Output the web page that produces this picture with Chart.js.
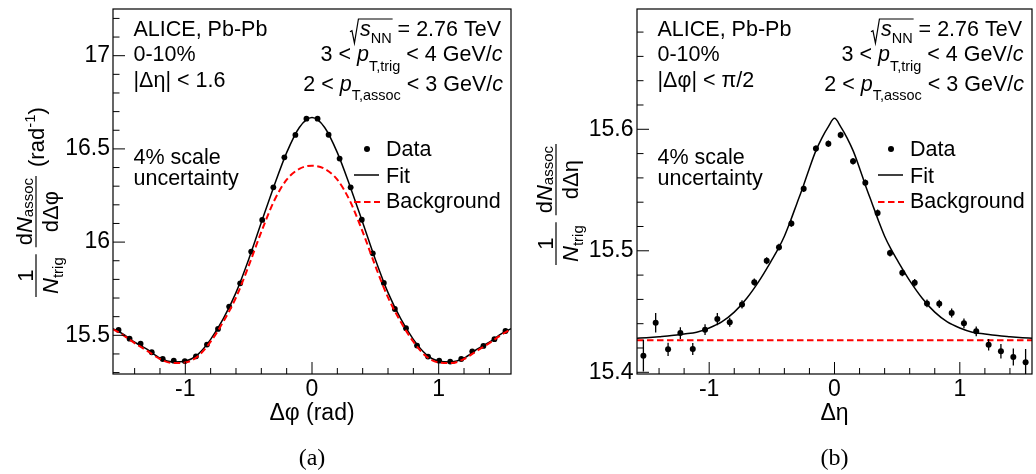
<!DOCTYPE html>
<html>
<head>
<meta charset="utf-8">
<script src="https://cdn.jsdelivr.net/npm/chart.js@4.4.1/dist/chart.umd.min.js"></script>
<style>
  html, body { margin: 0; padding: 0; background: #fff; }
  #wrap { position: relative; width: 1036px; height: 474px; }
  .box { position: absolute; top: 0; height: 474px; }
  #boxA { left: 0; width: 520px; }
  #boxB { left: 520px; width: 516px; }
</style>
</head>
<body>
<div id="wrap">
  <div class="box" id="boxA"><canvas id="chartA"></canvas></div>
  <div class="box" id="boxB"><canvas id="chartB"></canvas></div>
</div>
<script>
// ---- panel (a): delta phi projection ----
const phiA = [-1.527, -1.440, -1.353, -1.265, -1.178, -1.091, -1.004, -0.916, -0.829, -0.742, -0.654, -0.567,
  -0.480, -0.393, -0.305, -0.218, -0.131, -0.044, 0.044, 0.131, 0.218, 0.305, 0.393, 0.480,
  0.567, 0.654, 0.742, 0.829, 0.916, 1.004, 1.091, 1.178, 1.265, 1.353, 1.440, 1.527];
const dataA = [15.529, 15.482, 15.455, 15.409, 15.373, 15.364, 15.362, 15.387, 15.450, 15.534, 15.654, 15.779,
  15.949, 16.119, 16.294, 16.455, 16.575, 16.662, 16.662, 16.576, 16.448, 16.294, 16.120, 15.940,
  15.781, 15.641, 15.538, 15.445, 15.386, 15.364, 15.359, 15.373, 15.414, 15.443, 15.479, 15.523];
const curveXA = [-1.5708, -1.5, -1.4, -1.3, -1.2, -1.1, -1.0, -0.9, -0.8, -0.7, -0.6, -0.5, -0.4, -0.3, -0.2, -0.1, 0,
  0.1, 0.2, 0.3, 0.4, 0.5, 0.6, 0.7, 0.8, 0.9, 1.0, 1.1, 1.2, 1.3, 1.4, 1.5, 1.5708];
const fitA = [15.535, 15.510, 15.463, 15.424, 15.378, 15.357, 15.362, 15.398, 15.478, 15.589, 15.729, 15.907, 16.105, 16.300, 16.480, 16.615, 16.668,
  16.615, 16.480, 16.300, 16.105, 15.907, 15.729, 15.589, 15.478, 15.398, 15.362, 15.357, 15.378, 15.424, 15.463, 15.510, 15.535];
const bgA = [15.532, 15.505, 15.458, 15.416, 15.373, 15.351, 15.354, 15.388, 15.466, 15.573, 15.703, 15.872, 16.055, 16.220, 16.335, 16.393, 16.410,
  16.393, 16.335, 16.220, 16.055, 15.872, 15.703, 15.573, 15.466, 15.388, 15.354, 15.351, 15.373, 15.416, 15.458, 15.505, 15.532];

// ---- panel (b): delta eta projection ----
const etaB = [-1.525, -1.427, -1.328, -1.230, -1.131, -1.033, -0.935, -0.836, -0.738, -0.640, -0.541, -0.443,
  -0.344, -0.246, -0.148, -0.049, 0.049, 0.148, 0.246, 0.344, 0.443, 0.541, 0.640, 0.738,
  0.836, 0.935, 1.033, 1.131, 1.230, 1.328, 1.427, 1.525];
const dataB = [15.4137, 15.4408, 15.4189, 15.4323, 15.4192, 15.4351, 15.4438, 15.4411, 15.4559, 15.4742, 15.4918, 15.5030,
  15.5225, 15.5510, 15.5841, 15.5882, 15.5953, 15.5737, 15.5559, 15.5312, 15.4981, 15.4819, 15.4737, 15.4567,
  15.4564, 15.4488, 15.4403, 15.4337, 15.4227, 15.4173, 15.4126, 15.4082];
const errB = [0.013, 0.008, 0.0055, 0.0048, 0.005, 0.0045, 0.005, 0.0037, 0.0034, 0.003, 0.0028, 0.0028,
  0.0027, 0.0027, 0.0026, 0.0026, 0.0026, 0.0026, 0.0027, 0.0027, 0.0028, 0.0028, 0.003, 0.0032,
  0.0034, 0.0037, 0.004, 0.004, 0.0048, 0.006, 0.007, 0.011];
const fitXB = [-1.576, -1.5, -1.4, -1.3, -1.2, -1.1, -1.0, -0.9, -0.8, -0.7, -0.6, -0.5, -0.45, -0.4, -0.35, -0.3, -0.25, -0.2, -0.15, -0.1, -0.05, 0,
  0.05, 0.1, 0.15, 0.2, 0.25, 0.3, 0.35, 0.4, 0.45, 0.5, 0.6, 0.7, 0.8, 0.9, 1.0, 1.1, 1.2, 1.3, 1.4, 1.5, 1.576];
const fitB = [15.428, 15.4285, 15.4293, 15.4302, 15.4315, 15.433, 15.4365, 15.4415, 15.4495, 15.461, 15.4755, 15.4925, 15.5015, 15.512, 15.525, 15.539, 15.553, 15.568, 15.582, 15.593, 15.602, 15.609,
  15.602, 15.593, 15.582, 15.568, 15.553, 15.539, 15.525, 15.512, 15.5015, 15.4925, 15.4755, 15.461, 15.4495, 15.4415, 15.4365, 15.433, 15.4315, 15.4302, 15.4293, 15.4285, 15.428];
const bgXB = [-1.576, 1.576];
const bgB = [15.4263, 15.4263];

// ---- ticks ----
const xTicks = [-1, 0, 1];
const yTicksA = [15.5, 16, 16.5, 17];
const yTicksB = [15.4, 15.5, 15.6];

const FONT = "'Liberation Sans', Arial, Helvetica, sans-serif";

function pts(xs, ys) {
  return xs.map((x, i) => ({ x: x, y: ys[i] }));
}

// rich text pieces
function n(t, size) { return { t: t, size: size || 21.5, it: false, dy: 0 }; }
function it(t, size) { return { t: t, size: size || 21.5, it: true, dy: 0 }; }
function sb(t, dy, size) { return { t: t, size: size || 14.5, it: false, dy: dy }; }
function fontOf(p) { return (p.it ? 'italic ' : '') + p.size + 'px ' + FONT; }

function widthOf(ctx, parts) {
  let w = 0;
  parts.forEach(p => { ctx.font = fontOf(p); w += ctx.measureText(p.t).width; });
  return w;
}

function rich(ctx, x, y, parts, align) {
  const w = widthOf(ctx, parts);
  let cx = align === 'right' ? x - w : align === 'center' ? x - w / 2 : x;
  ctx.textAlign = 'left';
  ctx.textBaseline = 'alphabetic';
  parts.forEach(p => {
    ctx.font = fontOf(p);
    ctx.fillText(p.t, cx, y + p.dy);
    cx += ctx.measureText(p.t).width;
  });
  return w;
}

// sqrt(s_NN) = 2.76 TeV, right aligned
function sqrtLine(ctx, right, by) {
  const under = [it('s'), sb('NN', 7)];
  const rest = [n(' = 2.76 TeV')];
  const wu = widthOf(ctx, under), wr = widthOf(ctx, rest);
  const radW = 10;
  const x0 = right - wr - wu - radW;
  ctx.save();
  ctx.strokeStyle = '#000';
  ctx.lineWidth = 1.2;
  ctx.beginPath();
  ctx.moveTo(x0, by - 4);
  ctx.lineTo(x0 + 2, by - 5);
  ctx.lineTo(x0 + 4.5, by + 7.5);
  ctx.lineTo(x0 + 8.5, by - 16.7);
  ctx.lineTo(x0 + radW + wu + 1, by - 16.7);
  ctx.stroke();
  ctx.restore();
  rich(ctx, x0 + radW, by, under, 'left');
  rich(ctx, right, by, rest, 'right');
}

// rotated y axis title made of two fractions and a unit
function yTitle(ctx, cx, cy, dvar, withUnit) {
  ctx.save();
  ctx.translate(cx, cy);
  ctx.rotate(-Math.PI / 2);
  ctx.fillStyle = '#000';
  ctx.strokeStyle = '#000';
  ctx.lineWidth = 1.2;
  const big = 22, small = 15;
  // 1 / N_trig
  const num1 = [n('1', big)];
  const den1 = [it('N', big), sb('trig', 5, small)];
  const w1 = Math.max(widthOf(ctx, num1), widthOf(ctx, den1)) + 6;
  rich(ctx, w1 / 2, -3, num1, 'center');
  rich(ctx, w1 / 2, 21.5, den1, 'center');
  ctx.beginPath(); ctx.moveTo(0, 0); ctx.lineTo(w1, 0); ctx.stroke();
  // dN_assoc / d(var)
  const x2 = w1 + 7;
  const num2 = [n('d', big), it('N', big), sb('assoc', 1, small)];
  const den2 = [n('d\u0394' + dvar, big)];
  const w2 = Math.max(widthOf(ctx, num2), widthOf(ctx, den2)) + 4;
  rich(ctx, x2 + w2 / 2, -4, num2, 'center');
  rich(ctx, x2 + w2 / 2, 21.5, den2, 'center');
  ctx.beginPath(); ctx.moveTo(x2, 0); ctx.lineTo(x2 + w2, 0); ctx.stroke();
  if (withUnit) {
    rich(ctx, x2 + w2 + 9, 7.5, [n('(rad', big), sb('-1', -9, small), n(')', big)], 'left');
  }
  ctx.restore();
}

function decorations(cfg) {
  return {
    id: 'decor' + cfg.tag,
    afterDatasetsDraw(chart) {
      if (!cfg.err) return;
      const ctx = chart.ctx, xs = chart.scales.x, ys = chart.scales.y, ca = chart.chartArea;
      ctx.save();
      ctx.beginPath();
      ctx.rect(ca.left, ca.top, ca.right - ca.left, ca.bottom - ca.top);
      ctx.clip();
      ctx.strokeStyle = '#000';
      ctx.lineWidth = 1.3;
      ctx.beginPath();
      cfg.xs.forEach((x, i) => {
        const px = xs.getPixelForValue(x);
        ctx.moveTo(px, ys.getPixelForValue(cfg.ys[i] - cfg.err[i]));
        ctx.lineTo(px, ys.getPixelForValue(cfg.ys[i] + cfg.err[i]));
      });
      ctx.stroke();
      ctx.restore();
    },
    afterDraw(chart) {
      const ctx = chart.ctx, xs = chart.scales.x, ys = chart.scales.y, ca = chart.chartArea;
      ctx.save();
      ctx.strokeStyle = '#000';
      ctx.fillStyle = '#000';
      // frame
      ctx.lineWidth = 1.2;
      ctx.strokeRect(ca.left, ca.top, ca.right - ca.left, ca.bottom - ca.top);
      // inward ticks
      ctx.lineWidth = 1;
      ctx.beginPath();
      for (let k = -8; k <= 8; k++) {
        const v = k * 0.2;
        if (v < xs.min || v > xs.max) continue;
        const len = (k % 5 === 0) ? 12 : 6;
        const px = xs.getPixelForValue(v);
        ctx.moveTo(px, ca.bottom);
        ctx.lineTo(px, ca.bottom - len);
      }
      const steps = Math.round((cfg.yMinorTo - cfg.yMinorFrom) / cfg.yMinorStep);
      for (let k = 0; k <= steps; k++) {
        const v = cfg.yMinorFrom + k * cfg.yMinorStep;
        if (v < ys.min || v > ys.max) continue;
        const major = cfg.yTicks.some(t => Math.abs(t - v) < 1e-6);
        const py = ys.getPixelForValue(v);
        ctx.moveTo(ca.left, py);
        ctx.lineTo(ca.left + (major ? 12 : 6.5), py);
      }
      ctx.stroke();

      // text block
      const L = ca.left + 20.5, R = ca.right;
      rich(ctx, L, 35.7, [n('ALICE, Pb-Pb')], 'left');
      rich(ctx, L, 60.7, [n('0-10%')], 'left');
      rich(ctx, L, 87.3, [n(cfg.cut)], 'left');
      rich(ctx, L, 164, [n('4% scale')], 'left');
      rich(ctx, L, 185, [n('uncertainty')], 'left');
      sqrtLine(ctx, R - 10, 35.7);
      rich(ctx, R - 8.5, 61, [n('3 < '), it('p'), sb('T,trig', 9.5), n(' < 4 GeV/'), it('c')], 'right');
      rich(ctx, R - 8, 90.7, [n('2 < '), it('p'), sb('T,assoc', 9.5), n(' < 3 GeV/'), it('c')], 'right');

      // legend
      const lx = ca.left;
      ctx.beginPath();
      ctx.arc(lx + 254, 149, 3, 0, Math.PI * 2);
      ctx.fill();
      ctx.lineWidth = 1.5;
      ctx.beginPath();
      ctx.moveTo(lx + 241, 175); ctx.lineTo(lx + 266, 175);
      ctx.stroke();
      ctx.strokeStyle = '#ff0000';
      ctx.lineWidth = 2;
      ctx.setLineDash([6.5, 3.5]);
      ctx.beginPath();
      ctx.moveTo(lx + 241, 202); ctx.lineTo(lx + 267, 202);
      ctx.stroke();
      ctx.setLineDash([]);
      rich(ctx, lx + 273, 156, [n('Data')], 'left');
      rich(ctx, lx + 273, 183, [n('Fit')], 'left');
      rich(ctx, lx + 273, 208, [n('Background')], 'left');

      // axis titles
      const mid = (ca.left + ca.right) / 2;
      rich(ctx, mid, 420, [n(cfg.xTitle, 23)], 'center');
      ctx.font = "24px 'Liberation Serif', 'Times New Roman', serif";
      ctx.textAlign = 'center';
      ctx.fillText(cfg.panel, mid, 465);
      yTitle(ctx, 36, cfg.yTitleBottom, cfg.dvar, cfg.unit);
      ctx.restore();
    }
  };
}

function makeChart(id, cfg) {
  const tickFont = { family: FONT, size: 23 };
  const datasets = [
    {
      type: 'line', data: pts(cfg.bgX, cfg.bgY), borderColor: '#ff0000', borderWidth: 2,
      borderDash: [6.5, 3.5], pointRadius: 0, fill: false, cubicInterpolationMode: 'monotone'
    },
    {
      type: 'line', data: pts(cfg.fitX, cfg.fitY), borderColor: '#000', borderWidth: 1.5,
      pointRadius: 0, fill: false, cubicInterpolationMode: 'monotone'
    },
    {
      type: 'scatter', data: pts(cfg.xs, cfg.ys), backgroundColor: '#000', borderWidth: 0,
      pointRadius: cfg.dot, showLine: false
    }
  ];
  return new Chart(document.getElementById(id), {
    type: 'scatter',
    data: { datasets: datasets },
    options: {
      responsive: true,
      maintainAspectRatio: false,
      animation: false,
      layout: { padding: { left: 0, right: cfg.padR, top: 9, bottom: 0 } },
      plugins: { legend: { display: false }, tooltip: { enabled: false } },
      scales: {
        x: {
          type: 'linear', min: cfg.xMin, max: cfg.xMax,
          afterBuildTicks: s => { s.ticks = xTicks.map(v => ({ value: v })); },
          afterFit: s => { s.height = 100; s.paddingLeft = 0; s.paddingRight = 0; },
          grid: { display: false, drawTicks: false },
          border: { display: false },
          ticks: { font: tickFont, color: '#000', padding: 2, maxRotation: 0, autoSkip: false, callback: v => String(v) }
        },
        y: {
          type: 'linear', min: cfg.yMin, max: cfg.yMax,
          afterBuildTicks: s => { s.ticks = cfg.yTicks.map(v => ({ value: v })); },
          afterFit: s => { s.width = cfg.yW; s.paddingTop = 0; s.paddingBottom = 0; },
          grid: { display: false, drawTicks: false },
          border: { display: false },
          ticks: { font: tickFont, color: '#000', padding: cfg.yPad, autoSkip: false, callback: v => String(v) }
        }
      }
    },
    plugins: [decorations(cfg)]
  });
}

makeChart('chartA', {
  tag: 'A', xs: phiA, ys: dataA, err: null, dot: 2.9,
  fitX: curveXA, fitY: fitA, bgX: curveXA, bgY: bgA,
  xMin: -1.5708, xMax: 1.5708, yMin: 15.2924, yMax: 17.2505,
  yTicks: yTicksA, yMinorFrom: 15.3, yMinorTo: 17.2, yMinorStep: 0.1,
  yW: 113, padR: 9, yPad: 3,
  cut: '|\u0394\u03b7| < 1.6', xTitle: '\u0394\u03c6 (rad)', panel: '(a)',
  dvar: '\u03c6', unit: true, yTitleBottom: 297
});

makeChart('chartB', {
  tag: 'B', xs: etaB, ys: dataB, err: errB, dot: 3,
  fitX: fitXB, fitY: fitB, bgX: bgXB, bgY: bgB,
  xMin: -1.576, xMax: 1.576, yMin: 15.3986, yMax: 15.699,
  yTicks: yTicksB, yMinorFrom: 15.4, yMinorTo: 15.68, yMinorStep: 0.02,
  yW: 117, padR: 3, yPad: 3.5,
  cut: '|\u0394\u03c6| < \u03c0/2', xTitle: '\u0394\u03b7', panel: '(b)',
  dvar: '\u03b7', unit: false, yTitleBottom: 265
});
</script>
</body>
</html>
